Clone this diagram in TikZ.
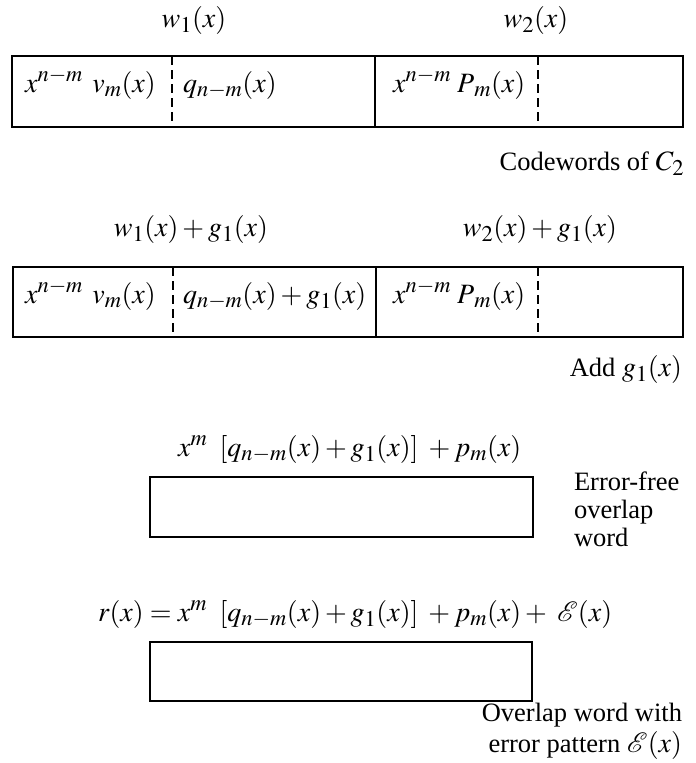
\documentclass[tikz,border=0pt]{standalone}
\usepackage{mathptmx}
\usepackage{fontspec}
\setmainfont{Liberation Serif}
\DeclareMathSizes{26.5}{28}{22.5}{17}
\begin{document}
\begin{tikzpicture}[x=1pt,y=-1pt,
  every node/.style={font=\fontsize{26.5}{30}\selectfont, inner sep=0pt, outer sep=0pt},
  wordbox/.style={draw, line width=1.4pt, anchor=north west},
  divline/.style={line width=1.2pt},
  divdash/.style={line width=1.2pt, dash pattern=on 9pt off 5pt},
  lbl/.style={anchor=base west},
  clbl/.style={anchor=base},
  rlbl/.style={anchor=base east}]
\useasboundingbox (0,0) rectangle (696,763);
% --- row 1: codewords of C2
\node[clbl] (w1) at (194,27) {$w_1(x)$};
\node[clbl] (w2) at (536,27) {$w_2(x)$};
\node[wordbox, minimum width=671pt, minimum height=71pt] (b1) at (12,56) {};
\coordinate (b1d1t) at (172,56); \coordinate (b1d1b) at (172,127);
\coordinate (b1st) at (375,56);  \coordinate (b1sb) at (375,127);
\coordinate (b1d2t) at (538,56); \coordinate (b1d2b) at (538,127);
\draw[divdash] (b1d1t) -- (b1d1b);
\draw[divline] (b1st) -- (b1sb);
\draw[divdash] (b1d2t) -- (b1d2b);
\node[lbl] (t11) at (25,92) {$x^{n-m}\;\,v_m(x)$};
\node[lbl] (t12) at (183,92) {$q_{n-m}(x)$};
\node[lbl] (t13) at (393,92) {$x^{n-m}\;P{}_m(x)$};
\node[rlbl] (c1) at (684,170) {Codewords of $C_2$};
% --- row 2: add g1
\node[clbl] (w3) at (191,236) {$w_1(x)+g_1(x)$};
\node[clbl] (w4) at (540,236) {$w_2(x)+g_1(x)$};
\node[wordbox, minimum width=670pt, minimum height=70pt] (b2) at (13,267) {};
\coordinate (b2d1t) at (173,267); \coordinate (b2d1b) at (173,337);
\coordinate (b2st) at (376,267);  \coordinate (b2sb) at (376,337);
\coordinate (b2d2t) at (538,267); \coordinate (b2d2b) at (538,337);
\draw[divdash] (b2d1t) -- (b2d1b);
\draw[divline] (b2st) -- (b2sb);
\draw[divdash] (b2d2t) -- (b2d2b);
\node[lbl] (t21) at (25,303) {$x^{n-m}\;\,v_m(x)$};
\node[lbl] (t22) at (183,303) {$q_{n-m}(x)+g_1(x)$};
\node[lbl] (t23) at (393,303) {$x^{n-m}\;P{}_m(x)$};
\node[rlbl] (c2) at (682,376) {Add $g_1(x)$};
% --- row 3: error-free overlap word
\node[lbl] (e1) at (178,456) {$x^m\;\;[q_{n-m}(x)+g_1(x)]\;+p_m(x)$};
\node[wordbox, minimum width=383pt, minimum height=60pt] (b3) at (150,477) {};
\node[lbl] (c3a) at (574,490) {Error-free};
\node[lbl] (c3b) at (574,518) {overlap};
\node[lbl] (c3c) at (574,546) {word};
% --- row 4: overlap word with error pattern
\node[lbl] (e2) at (98,621) {$r(x)=x^m\;\;[q_{n-m}(x)+g_1(x)]\;+p_m(x)+\;\mathcal{E}(x)$};
\node[wordbox, minimum width=382pt, minimum height=59pt] (b4) at (150,642) {};
\node[rlbl] (c4a) at (682,721) {Overlap word with};
\node[rlbl] (c4b) at (682,752) {error pattern $\mathcal{E}(x)$};
\end{tikzpicture}
\end{document}
